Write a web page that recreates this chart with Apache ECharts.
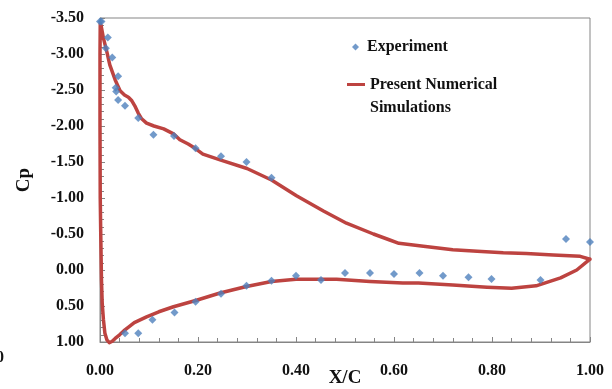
<!DOCTYPE html>
<html>
<head>
<meta charset="utf-8">
<script src="https://cdn.jsdelivr.net/npm/echarts@6/dist/echarts.min.js"></script>
<style>
  html, body { margin: 0; padding: 0; background: #fff; }
  #chart { width: 612px; height: 389px; }
</style>
</head>
<body>
<div id="chart"></div>
<script>
// Pressure coefficient along the aerofoil chord
const xTicks = [0, 0.2, 0.4, 0.6, 0.8, 1.0];
const cpTicks = [-3.5, -3.0, -2.5, -2.0, -1.5, -1.0, -0.5, 0.0, 0.5, 1.0];

// Wind-tunnel measurements, suction side
const expUpperX  = [0.000, 0.003, 0.012, 0.016, 0.025, 0.037, 0.032, 0.033, 0.037, 0.051, 0.078, 0.109, 0.151, 0.195, 0.247, 0.299, 0.350, 0.951, 1.000];
const expUpperCp = [-3.45, -3.45, -3.08, -3.23, -2.95, -2.69, -2.53, -2.48, -2.36, -2.28, -2.11, -1.88, -1.86, -1.69, -1.58, -1.50, -1.28, -0.43, -0.39];
// Wind-tunnel measurements, pressure side
const expLowerX  = [0.051, 0.078, 0.107, 0.152, 0.195, 0.247, 0.299, 0.350, 0.400, 0.451, 0.500, 0.551, 0.600, 0.652, 0.700, 0.752, 0.799, 0.899];
const expLowerCp = [0.88, 0.88, 0.69, 0.59, 0.44, 0.33, 0.22, 0.15, 0.08, 0.14, 0.04, 0.04, 0.056, 0.04, 0.08, 0.10, 0.125, 0.14];

// Computed distribution: trailing edge -> leading edge over the suction side
const simUpperX  = [1.000, 0.980, 0.925, 0.870, 0.823, 0.770, 0.720, 0.660, 0.610, 0.590, 0.558, 0.503, 0.456, 0.401, 0.350, 0.300, 0.245, 0.210, 0.194, 0.180, 0.163, 0.150, 0.130, 0.110, 0.095, 0.085, 0.078, 0.071, 0.065, 0.058, 0.050, 0.041, 0.031, 0.020, 0.014, 0.007, 0.002, 0.0005];
const simUpperCp = [-0.15, -0.19, -0.21, -0.23, -0.24, -0.26, -0.28, -0.33, -0.37, -0.42, -0.50, -0.65, -0.82, -1.03, -1.25, -1.41, -1.53, -1.61, -1.69, -1.75, -1.81, -1.89, -1.96, -2.00, -2.04, -2.10, -2.18, -2.28, -2.35, -2.40, -2.43, -2.49, -2.64, -2.85, -3.03, -3.22, -3.40, -3.43];
// ...then leading edge -> trailing edge over the pressure side
const simLowerX  = [0.000, 0.000, 0.0005, 0.0014, 0.003, 0.0045, 0.007, 0.010, 0.014, 0.019, 0.025, 0.031, 0.040, 0.051, 0.070, 0.095, 0.120, 0.150, 0.197, 0.245, 0.299, 0.350, 0.400, 0.450, 0.483, 0.551, 0.618, 0.650, 0.720, 0.790, 0.840, 0.890, 0.940, 0.973, 1.000];
const simLowerCp = [-3.00, -2.00, -1.00, -0.56, 0.14, 0.46, 0.69, 0.88, 0.97, 1.01, 0.99, 0.95, 0.90, 0.83, 0.73, 0.65, 0.58, 0.51, 0.42, 0.32, 0.23, 0.16, 0.13, 0.13, 0.13, 0.16, 0.18, 0.18, 0.21, 0.24, 0.255, 0.22, 0.11, 0.00, -0.15];

const zip = (xs, ys) => xs.map((x, i) => [x, ys[i]]);
const expData = zip(expUpperX, expUpperCp).concat(zip(expLowerX, expLowerCp));
const simData = zip(simUpperX, simUpperCp).concat(zip(simLowerX, simLowerCp));

const SERIF = '"Liberation Serif", "Times New Roman", serif';
const axisGrey = '#858585';
const SIM_NAME = 'Present Numerical Simulations';

const chart = echarts.init(document.getElementById('chart'), null, { renderer: 'canvas' });
chart.setOption({
  animation: false,
  backgroundColor: '#ffffff',
  grid: {
    left: 100, right: 22, top: 18, bottom: 47,
    containLabel: false, outerBoundsMode: 'none',
    show: true, borderColor: axisGrey, borderWidth: 1
  },
  xAxis: {
    type: 'value',
    min: xTicks[0], max: xTicks[xTicks.length - 1], interval: 0.2,
    name: 'X/C', nameLocation: 'middle', nameGap: 27, nameMoveOverlap: false,
    nameTextStyle: { fontFamily: SERIF, fontWeight: 'bold', fontSize: 19, color: '#111' },
    axisLine: { show: true, onZero: false, lineStyle: { color: axisGrey, width: 1 } },
    axisTick: { show: true, inside: true, length: 5, lineStyle: { color: axisGrey } },
    minorTick: { show: true, splitNumber: 5, length: 4, lineStyle: { color: axisGrey } },
    splitLine: { show: false },
    axisLabel: { margin: 21, fontFamily: SERIF, fontWeight: 'bold', fontSize: 16, color: '#111',
      formatter: v => v.toFixed(2) }
  },
  yAxis: {
    type: 'value', inverse: true,
    min: cpTicks[0], max: cpTicks[cpTicks.length - 1], interval: 0.5,
    name: 'Cp', nameLocation: 'middle', nameGap: 66, nameRotate: 90, nameMoveOverlap: false,
    nameTextStyle: { fontFamily: SERIF, fontWeight: 'bold', fontSize: 19, color: '#111' },
    axisLine: { show: true, onZero: false, lineStyle: { color: axisGrey, width: 1 } },
    axisTick: { show: true, inside: true, length: 5, lineStyle: { color: axisGrey } },
    minorTick: { show: true, splitNumber: 5, length: 4, lineStyle: { color: axisGrey } },
    splitLine: { show: false },
    axisLabel: { margin: 16, fontFamily: SERIF, fontWeight: 'bold', fontSize: 16, color: '#111',
      formatter: v => v.toFixed(2) }
  },
  legend: [
    {
      data: ['Experiment'], left: 352, top: 37, padding: 0,
      icon: 'diamond', itemWidth: 7, itemHeight: 7,
      textStyle: { fontFamily: SERIF, fontWeight: 'bold', fontSize: 16, color: '#111', lineHeight: 20, padding: [0, 0, 0, 3] }
    },
    {
      // blank first line keeps the swatch level with the first text line
      data: [SIM_NAME], left: 347, top: 50, padding: 0,
      icon: 'rect', itemWidth: 18, itemHeight: 3,
      formatter: () => ' \nPresent Numerical\nSimulations',
      textStyle: { fontFamily: SERIF, fontWeight: 'bold', fontSize: 16, color: '#111', lineHeight: 23 }
    }
  ],
  graphic: [
    { type: 'text', left: -4, top: 350, style: { text: '0', font: 'bold 16px ' + SERIF, fill: '#111' } }
  ],
  series: [
    {
      name: SIM_NAME,
      type: 'line', data: simData, clip: false,
      symbol: 'none', smooth: false,
      lineStyle: { color: '#bd4340', width: 3.5, join: 'round', cap: 'round' },
      itemStyle: { color: '#bd4340' },
      z: 2
    },
    {
      name: 'Experiment',
      type: 'scatter', data: expData, clip: false,
      symbol: 'diamond', symbolSize: 8,
      itemStyle: { color: '#4f81bd' },
      z: 3
    }
  ]
});
</script>
</body>
</html>
